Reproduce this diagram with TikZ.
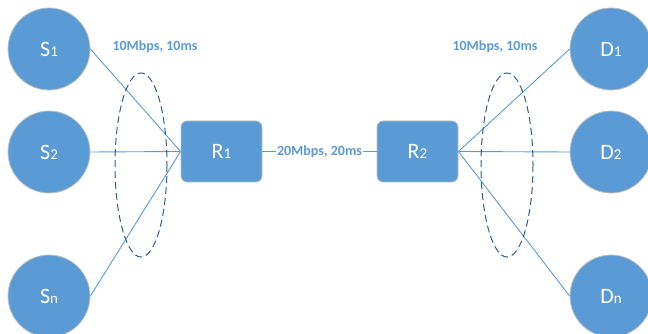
\documentclass[tikz,border=0pt]{standalone}
\usepackage{fontspec}
\setmainfont{Carlito}
\definecolor{nodeblue}{HTML}{5B9BD5}
\definecolor{edgegray}{HTML}{BFBFBF}
\definecolor{dashblue}{HTML}{2F5D8A}
\pgfdeclarelayer{bg}
\pgfsetlayers{bg,main}
\newcommand{\subdig}[1]{{\fontsize{15}{15}\selectfont #1}}
\begin{document}
\begin{tikzpicture}[x=1pt,y=-1pt,
  host/.style={circle,fill=nodeblue,draw=edgegray,line width=0.8pt,minimum size=82pt,inner sep=0pt,text=white,font=\fontsize{22}{22}\selectfont},
  router/.style={rectangle,rounded corners=6pt,fill=nodeblue,draw=edgegray,line width=0.8pt,minimum width=81pt,minimum height=61pt,inner sep=0pt,text=white,font=\fontsize{22}{22}\selectfont},
  link/.style={draw=nodeblue,line width=0.9pt},
  lbl/.style={text=nodeblue,font=\fontsize{14}{14}\selectfont\bfseries,inner sep=1pt},
  grp/.style={draw=dashblue,line width=1pt,dash pattern=on 7pt off 4pt}]
\useasboundingbox (0,0) rectangle (648,334);
\node[host] (s1) at (49,49) {S\subdig{1}};
\node[host] (s2) at (49,152) {S\subdig{2}};
\node[host] (sn) at (49,296) {S\subdig{n}};
\node[host] (d1) at (611,49) {D\subdig{1}};
\node[host] (d2) at (611,152) {D\subdig{2}};
\node[host] (dn) at (611,296) {D\subdig{n}};
\node[router] (r1) at (221.5,151.5) {R\subdig{1}};
\node[router] (r2) at (417.5,151.5) {R\subdig{2}};
\node[lbl] (l1) at (155,47) {10Mbps, 10ms};
\node[lbl] (l2) at (495,47) {10Mbps, 10ms};
\begin{pgfonlayer}{bg}
\draw[link] (s1.east) -- (r1.west);
\draw[link] (s2.east) -- (r1.west);
\draw[link] (sn.east) -- (r1.west);
\draw[link] (r2.east) -- (d1.west);
\draw[link] (r2.east) -- (d2.west);
\draw[link] (r2.east) -- (dn.west);
\draw[link] (r1.east) -- node[lbl,fill=white,inner sep=1.5pt] (mid) {20Mbps, 20ms} (r2.west);
\draw[grp] (141,165) ellipse [x radius=26, y radius=92];
\draw[grp] (507,165) ellipse [x radius=26, y radius=92];
\end{pgfonlayer}
\end{tikzpicture}
\end{document}
